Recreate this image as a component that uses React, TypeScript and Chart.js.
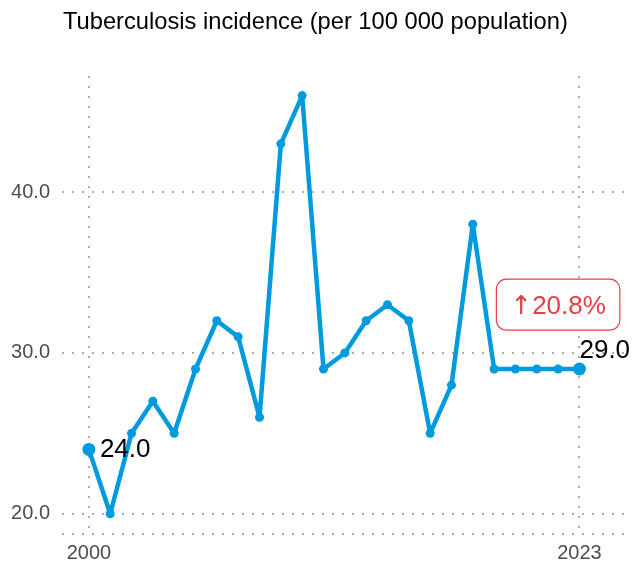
import React, { useEffect, useRef } from 'react';
import { Chart, registerables } from 'chart.js';

Chart.register(...registerables);

// ---- data ----
const years = [
  2000, 2001, 2002, 2003, 2004, 2005, 2006, 2007, 2008, 2009, 2010, 2011,
  2012, 2013, 2014, 2015, 2016, 2017, 2018, 2019, 2020, 2021, 2022, 2023,
];
const incidence = [
  24, 20, 25, 27, 25, 29, 32, 31, 26, 43, 46, 29,
  30, 32, 33, 32, 25, 28, 38, 29, 29, 29, 29, 29,
];
const yTickValues = [20, 30, 40];
const xTickValues = [2000, 2023];
const chartTitle = 'Tuberculosis incidence (per 100 000 population)';

// ---- styling / layout constants ----
const BLUE = '#009ADE';
const RED = '#EB3C46';
const GRID = '#ADADAD';
const TICK_COLOR = '#4D4D4D';
const FONT = '"Liberation Sans", Arial, Helvetica, sans-serif';
const ARROW_FONT = '"DejaVu Sans", sans-serif';
const X_MIN = 1998.74;
const X_MAX = 2025.44;
const Y_MIN = 18.74;
const Y_MAX = 47.22;
const BADGE_AT = { x: 2022, y: 33 };

const first = incidence[0];
const last = incidence[incidence.length - 1];
const pct = ((last - first) / first) * 100;
const badgeArrow = pct >= 0 ? '\u2191' : '\u2193';
const badgeValue = Math.abs(pct).toFixed(1) + '%';

const annotationPlugin = {
  id: 'tbAnnotations',
  afterDatasetsDraw(chart: any) {
    const { ctx, scales } = chart;
    const xs = scales.x;
    const ys = scales.y;
    const n = years.length;
    ctx.save();
    // first value label
    ctx.font = `26px ${FONT}`;
    ctx.fillStyle = '#000';
    ctx.textAlign = 'left';
    ctx.textBaseline = 'middle';
    ctx.fillText(first.toFixed(1), xs.getPixelForValue(years[0]) + 11, ys.getPixelForValue(first));
    // last value label
    ctx.textBaseline = 'alphabetic';
    ctx.fillText(last.toFixed(1), xs.getPixelForValue(years[n - 1]), ys.getPixelForValue(last) - 11);

    // badge
    ctx.font = `26px ${ARROW_FONT}`;
    const aw = ctx.measureText(badgeArrow).width;
    ctx.font = `26px ${FONT}`;
    const vw = ctx.measureText(badgeValue).width;
    const tw = aw + vw;
    const bw = tw + 28;
    const bh = 51;
    const cx = xs.getPixelForValue(BADGE_AT.x);
    const cy = ys.getPixelForValue(BADGE_AT.y);
    const bx = cx - bw / 2;
    const by = cy - bh / 2;
    ctx.beginPath();
    if ((ctx as any).roundRect) {
      (ctx as any).roundRect(bx, by, bw, bh, 10);
    } else {
      ctx.rect(bx, by, bw, bh);
    }
    ctx.fillStyle = '#fff';
    ctx.fill();
    ctx.lineWidth = 1.2;
    ctx.strokeStyle = RED;
    ctx.stroke();
    ctx.fillStyle = RED;
    ctx.textAlign = 'left';
    ctx.textBaseline = 'alphabetic';
    const baseY = cy + 9.5;
    ctx.font = `26px ${ARROW_FONT}`;
    ctx.fillText(badgeArrow, cx - tw / 2, baseY);
    ctx.font = `26px ${FONT}`;
    ctx.fillText(badgeValue, cx - tw / 2 + aw, baseY);

    // title
    ctx.font = `23.7px ${FONT}`;
    ctx.fillStyle = '#000';
    ctx.textAlign = 'left';
    ctx.textBaseline = 'alphabetic';
    ctx.fillText(chartTitle, 63, 29);
    ctx.restore();
  },
};

export default function App() {
  const canvasRef = useRef<HTMLCanvasElement | null>(null);

  useEffect(() => {
    const canvas = canvasRef.current;
    if (!canvas) return;
    const n = years.length;
    const chart = new Chart(canvas, {
      type: 'line',
      data: {
        datasets: [
          {
            data: years.map((yr, i) => ({ x: yr, y: incidence[i] })),
            borderColor: BLUE,
            backgroundColor: BLUE,
            borderWidth: 4.5,
            borderJoinStyle: 'round',
            borderCapStyle: 'round',
            pointRadius: (c: any) => (c.dataIndex === 0 || c.dataIndex === n - 1 ? 6.5 : 4.5),
            pointBorderWidth: 0,
            pointBackgroundColor: BLUE,
            pointHoverRadius: 4.5,
            tension: 0,
            clip: false as any,
          },
        ],
      },
      options: {
        animation: false,
        responsive: false,
        devicePixelRatio: 1,
        events: [],
        layout: { padding: { top: 76, right: 6, left: 0, bottom: 0 } },
        plugins: {
          legend: { display: false },
          tooltip: { enabled: false },
          title: { display: false },
        },
        scales: {
          x: {
            type: 'linear',
            min: X_MIN,
            max: X_MAX,
            afterBuildTicks: (s: any) => {
              s.ticks = xTickValues.map((v) => ({ value: v }));
            },
            afterFit: (s: any) => {
              s.height = 31;
            },
            grid: { color: GRID, lineWidth: 2, drawTicks: false },
            border: { display: false, dash: [2, 8] },
            ticks: {
              padding: 7,
              color: TICK_COLOR,
              font: { family: FONT, size: 20 },
              callback: (v: any) => String(v),
              maxRotation: 0,
              autoSkip: false,
            },
          },
          y: {
            type: 'linear',
            min: Y_MIN,
            max: Y_MAX,
            afterBuildTicks: (s: any) => {
              s.ticks = [{ value: Y_MIN }, ...yTickValues.map((v) => ({ value: v }))];
            },
            afterFit: (s: any) => {
              s.width = 62;
            },
            grid: { color: GRID, lineWidth: 2, drawTicks: false },
            border: { display: false, dash: [2, 8] },
            ticks: {
              padding: 12,
              color: TICK_COLOR,
              font: { family: FONT, size: 20 },
              callback: (v: any) => (yTickValues.includes(v) ? Number(v).toFixed(1) : ''),
              autoSkip: false,
            },
          },
        },
      },
      plugins: [annotationPlugin],
    });
    return () => chart.destroy();
  }, []);

  return (
    <div style={{ position: 'fixed', left: 0, top: 0, width: 638, height: 565, background: '#fff' }}>
      <canvas ref={canvasRef} width={638} height={565} style={{ display: 'block' }} />
    </div>
  );
}
